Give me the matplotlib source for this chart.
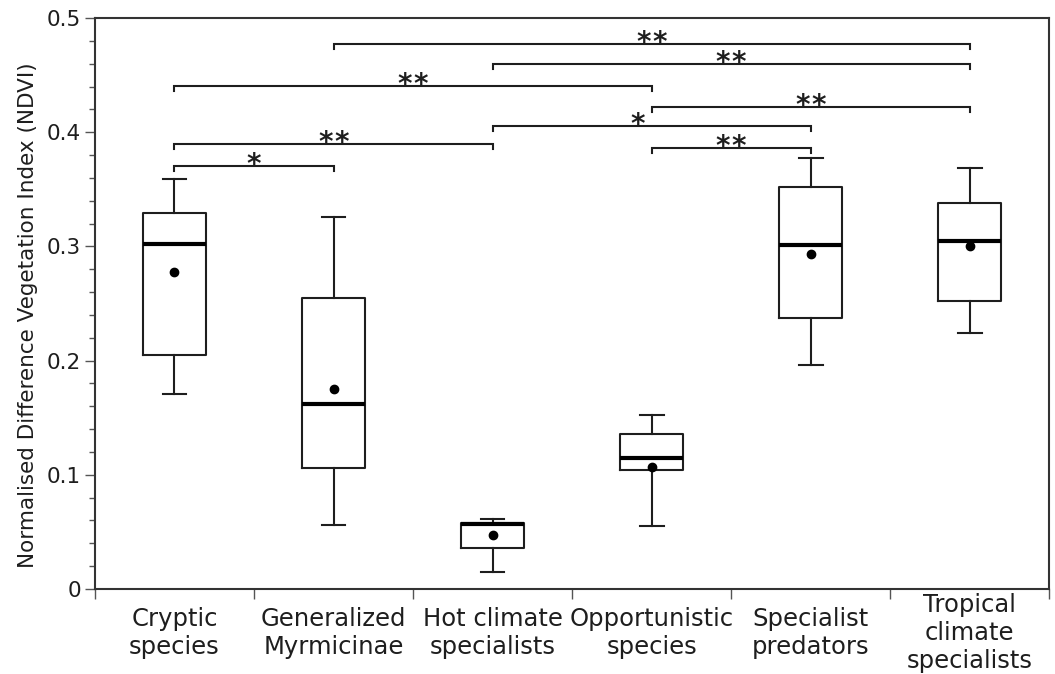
import matplotlib.pyplot as plt
from matplotlib.ticker import MultipleLocator

plt.rcParams['font.family'] = ['DejaVu Sans']

groups = ['Cryptic\nspecies', 'Generalized\nMyrmicinae', 'Hot climate\nspecialists',
          'Opportunistic\nspecies', 'Specialist\npredators', 'Tropical\nclimate\nspecialists']

# box statistics
whisker_low = [0.171, 0.056, 0.015, 0.055, 0.196, 0.224]
q1 = [0.205, 0.106, 0.036, 0.104, 0.237, 0.252]
median = [0.302, 0.162, 0.057, 0.115, 0.301, 0.305]
mean = [0.278, 0.175, 0.047, 0.107, 0.293, 0.300]
q3 = [0.329, 0.255, 0.058, 0.136, 0.352, 0.338]
whisker_high = [0.359, 0.326, 0.061, 0.152, 0.377, 0.369]

# significance brackets: (left group, right group, height, stars)
pair_left = [1, 2, 0, 3, 2, 0, 3, 0]
pair_right = [5, 5, 3, 5, 4, 2, 4, 1]
pair_height = [0.477, 0.4595, 0.4407, 0.4218, 0.4057, 0.3897, 0.3859, 0.3707]
pair_stars = [2, 2, 2, 2, 1, 2, 2, 1]

ink = '#1e1e1e'

fig = plt.figure(figsize=(10.55, 6.74), dpi=100)
ax = fig.add_axes([0.090, 0.1261, 0.9045, 0.8472])

stats = []
for i in range(len(groups)):
    stats.append(dict(whislo=whisker_low[i], q1=q1[i], med=median[i], mean=mean[i],
                      q3=q3[i], whishi=whisker_high[i], fliers=[]))

ax.bxp(stats, positions=range(len(groups)), widths=0.40, capwidths=0.15,
       showmeans=True, showfliers=False,
       boxprops=dict(color=ink, linewidth=1.5),
       whiskerprops=dict(color=ink, linewidth=1.5),
       capprops=dict(color=ink, linewidth=1.5),
       medianprops=dict(color='black', linewidth=3.0),
       meanprops=dict(marker='o', markerfacecolor='black', markeredgecolor='black',
                      markersize=6))

# brackets with stars
tick = 0.0045
for a, b, h, n in zip(pair_left, pair_right, pair_height, pair_stars):
    ax.plot([a, a, b, b], [h - tick, h, h, h - tick], color=ink, linewidth=1.5,
            solid_joinstyle='miter')
    xm = (a + b) / 2
    if n == 1 and a == 2:
        xm -= 0.09  # star shifted left of the crossing bracket
    if n == 2:
        offsets = [-5.8, 5.8]
    else:
        offsets = [0]
    for dx in offsets:
        ax.annotate('*', (xm, h), xytext=(dx, -5), textcoords='offset points',
                    ha='center', va='baseline', fontsize=20, fontweight='bold',
                    color=ink)

ax.set_xlim(-0.5, len(groups) - 0.5)
ax.set_ylim(0, 0.5)
ax.yaxis.set_minor_locator(MultipleLocator(0.02))
ax.set_yticks([0, 0.1, 0.2, 0.3, 0.4, 0.5])
ax.set_yticklabels(['0', '0.1', '0.2', '0.3', '0.4', '0.5'])

ax.set_xticks(range(len(groups)))
ax.set_xticklabels(groups, fontsize=17.5, color=ink, va='center')
ax.set_xticks([k - 0.5 for k in range(len(groups) + 1)], minor=True)
ax.tick_params(axis='x', which='major', length=0, pad=31.5)
ax.tick_params(axis='x', which='minor', length=7, width=1.0, color='#555555')
ax.tick_params(axis='y', which='major', length=7, width=1.0, color='#555555',
               labelsize=15.5, labelcolor=ink, pad=3)
ax.tick_params(axis='y', which='minor', length=4, width=1.0, color='#555555')

for s in ax.spines.values():
    s.set_linewidth(1.5)
    s.set_color('#333333')

ax.set_ylabel('Normalised Difference Vegetation Index (NDVI)', fontsize=15.5,
              color=ink)
ax.yaxis.set_label_coords(-0.060, 0.48)

fig.savefig('out.png', dpi=100)
